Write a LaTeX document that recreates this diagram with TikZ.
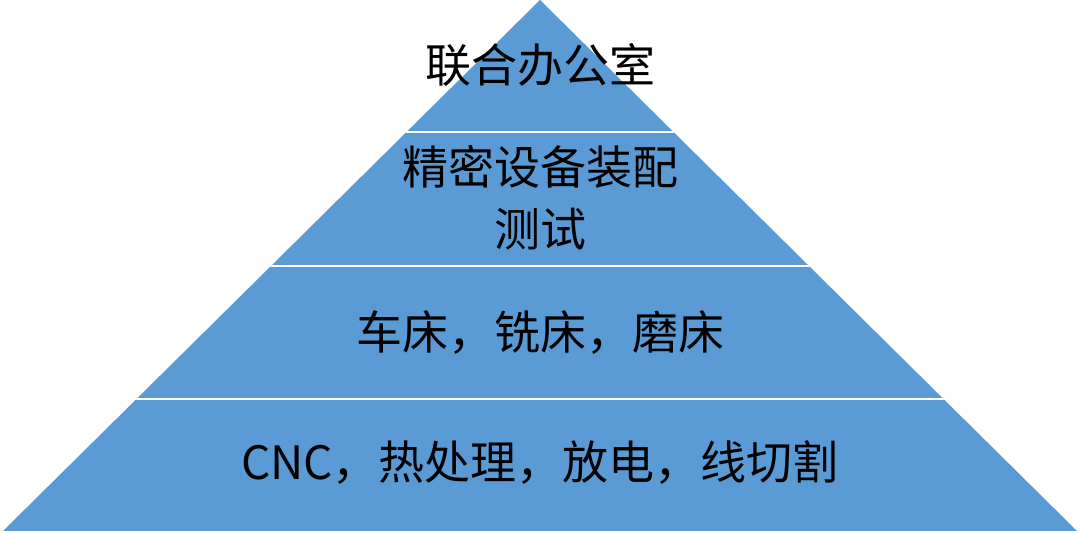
\documentclass[tikz,border=0pt]{standalone}
\usepackage{fontspec}
\setmainfont{Noto Sans CJK SC}
\begin{document}
\begin{tikzpicture}[x=1pt, y=1pt,
  label/.style={font=\fontsize{46}{62}\selectfont, align=center, inner sep=0pt}]
\definecolor{pyrblue}{HTML}{5B9BD5}
\useasboundingbox (0,0) rectangle (1080,533);
% pyramid
\coordinate (apex) at (540,533);
\coordinate (bl) at (3,2);
\coordinate (br) at (1077,2);
\fill[pyrblue] (bl) -- (apex) -- (br) -- cycle;
\begin{scope}
\clip (bl) -- (apex) -- (br) -- cycle;
\foreach \h in {401,267,134}
  \draw[white, line width=1.5pt] (0,\h) -- (1080,\h);
\end{scope}
% labels
\node[label] (top) at (540,468) {联合办公室};
\node[label] (second) at (540,335) {精密设备装配\\测试};
\node[label] (third) at (540,200) {车床，铣床，磨床};
\node[label] (base) at (540,70) {CNC，热处理，放电，线切割};
\end{tikzpicture}
\end{document}
